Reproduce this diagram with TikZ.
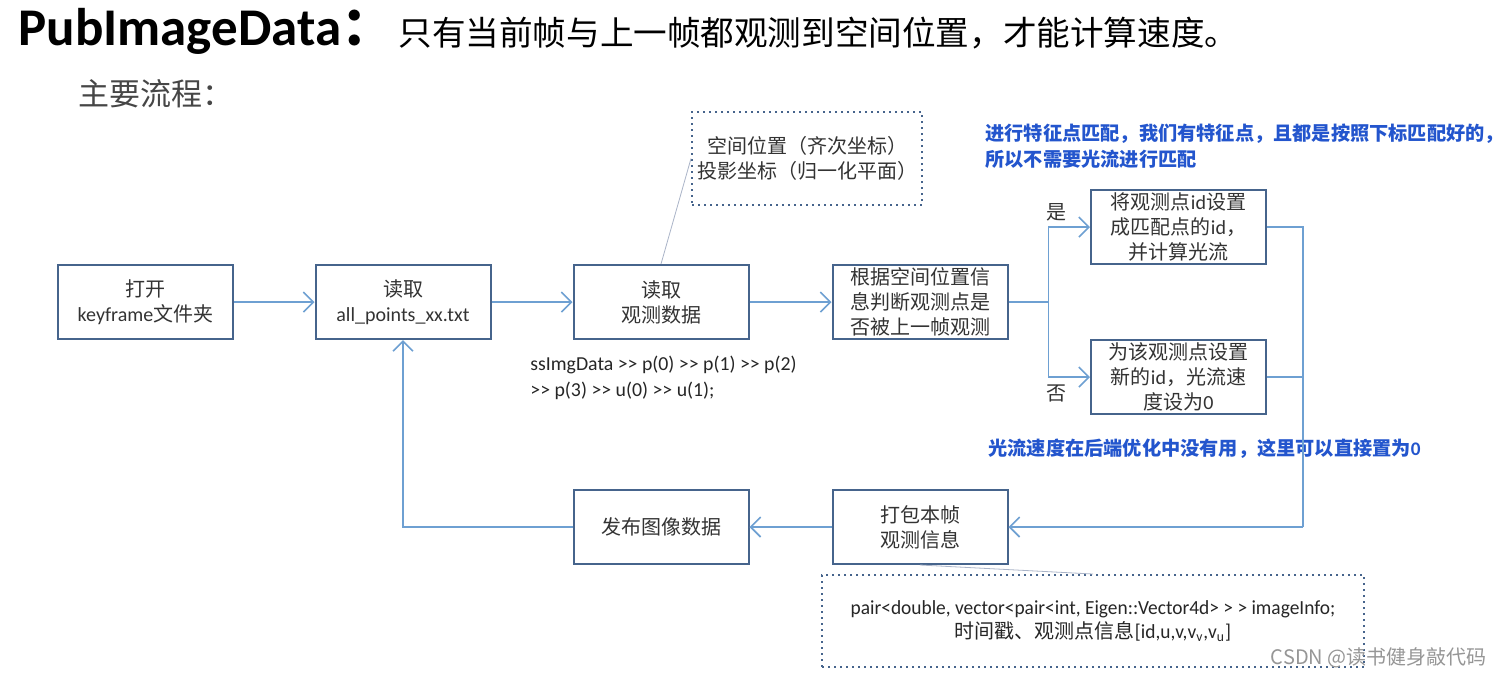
\documentclass[tikz,border=0pt]{standalone}
\usepackage{fontspec}
\setmainfont{Noto Sans CJK SC}
\newfontfamily\lat{Carlito}
\newfontfamily\latc[FakeStretch=0.97]{Carlito}
\usetikzlibrary{arrows.meta}
\definecolor{boxc}{RGB}{70,100,140}
\definecolor{linec}{RGB}{110,160,210}
\definecolor{bluet}{RGB}{35,85,205}
\definecolor{grayt}{RGB}{70,70,70}
\definecolor{wmark}{RGB}{150,150,150}
\definecolor{faintc}{RGB}{170,180,200}
\tikzset{
  stepbox/.style={draw=boxc, line width=1pt, minimum width=87.5pt, minimum height=37pt,
    inner sep=0pt, align=center, font=\fontsize{10}{12.5}\selectfont, text=black!80},
  dotbox/.style={draw=boxc, line width=1pt, dotted, inner sep=0pt, align=center},
  conn/.style={draw=linec, line width=0.8pt},
  arr/.style={conn, -{Straight Barb[length=5pt,width=10pt]}},
  faint/.style={draw=faintc, line width=0.4pt},
  bluenote/.style={text=bluet, font=\bfseries\fontsize{9.6}{13}\selectfont, anchor=west, inner sep=0pt},
  lbl/.style={font=\fontsize{10}{12}\selectfont, text=black!80, inner sep=0pt}
}
\begin{document}
\begin{tikzpicture}[x=0.5pt,y=-0.5pt]
\useasboundingbox[fill=white] (0,0) rectangle (1501,677);

% title
\node[anchor=west, inner sep=0pt] (title) at (18,31)
  {{\lat\bfseries\fontsize{26.5}{30}\selectfont PubImageData}{\bfseries\fontsize{26.5}{30}\selectfont ：}};
\node[anchor=west, inner sep=0pt, font=\fontsize{16.8}{20}\selectfont] (sub) at (398,33)
  {只有当前帧与上一帧都观测到空间位置，才能计算速度。};
\node[anchor=west, inner sep=0pt, text=grayt, font=\fontsize{15.5}{18}\selectfont] (main) at (78,94)
  {主要流程：};

% boxes
\node[stepbox] (A) at (145.5,302) {打开\\{\lat keyframe}文件夹};
\node[stepbox] (B) at (403,302) {读取\\{\lat all\_points\_xx.txt}};
\node[stepbox] (C) at (661,302) {读取\\观测数据};
\node[stepbox] (D) at (920,302) {根据空间位置信\\息判断观测点是\\否被上一帧观测};
\node[stepbox] (E) at (1178.5,227) {将观测点{\lat id}设置\\成匹配点的{\lat id}，\\并计算光流};
\node[stepbox] (F) at (1178.5,377) {为该观测点设置\\新的{\lat id}，光流速\\度设为{\lat 0}};
\node[stepbox] (G) at (920,527) {打包本帧\\观测信息};
\node[stepbox] (H) at (661,527) {发布图像数据};

% dotted annotation boxes
\node[dotbox, minimum width=115pt, minimum height=46.5pt, font=\fontsize{10}{12.5}\selectfont, text=black!80]
  (TB) at (807,158.5) {空间位置（齐次坐标）\\投影坐标（归一化平面）};
\node[dotbox, minimum width=271pt, minimum height=46pt, text=black!85]
  (BB) at (1093,621) {{\latc\fontsize{10}{13}\selectfont pair<double, vector<pair<int, Eigen::Vector4d> > > imageInfo;}\\
  {\fontsize{10}{13}\selectfont 时间戳、观测点信息}{\latc\fontsize{10}{13}\selectfont [id,u,v,v\textsubscript{v},v\textsubscript{u}]}};

% code text
\node[anchor=north west, inner sep=0pt, align=left, text=black!85, font=\lat\fontsize{9.9}{12.6}\selectfont]
  (code) at (530,356) {ssImgData >> p(0) >> p(1) >> p(2)\\>> p(3) >> u(0) >> u(1);};

% blue notes
\node[bluenote, align=left] (n1) at (985,146)
  {进行特征点匹配，我们有特征点，且都是按照下标匹配好的，\\所以不需要光流进行匹配};
\node[bluenote] (n2) at (988,449) {光流速度在后端优化中没有用，这里可以直接置为{\lat 0}};

% labels
\node[lbl] (yes) at (1056,212) {是};
\node[lbl] (no) at (1056,393) {否};

% connectors
\draw[arr] (A) -- (B);
\draw[arr] (B) -- (C);
\draw[arr] (C) -- (D);
\draw[conn] (D.east) -- ++(40,0) coordinate (split);
\draw[arr] (split) |- (E.west);
\draw[arr] (split) |- (F.west);
\coordinate (r) at (1303,527);
\draw[conn] (E.east) -| (r);
\draw[conn] (F.east) -- (F.east -| r);
\draw[arr] (r) -- (G.east);
\draw[arr] (G) -- (H);
\draw[arr] (H.west) -| (B.south);

% faint leader lines
\draw[faint] (C.north) -- (TB.west);
\draw[faint] (G.south) -- (BB.north);

% watermark
\node[anchor=east, inner sep=0pt, text=wmark, font=\fontsize{10}{12}\selectfont] (wm) at (1487,658)
  {CSDN @读书健身敲代码};
\end{tikzpicture}
\end{document}
